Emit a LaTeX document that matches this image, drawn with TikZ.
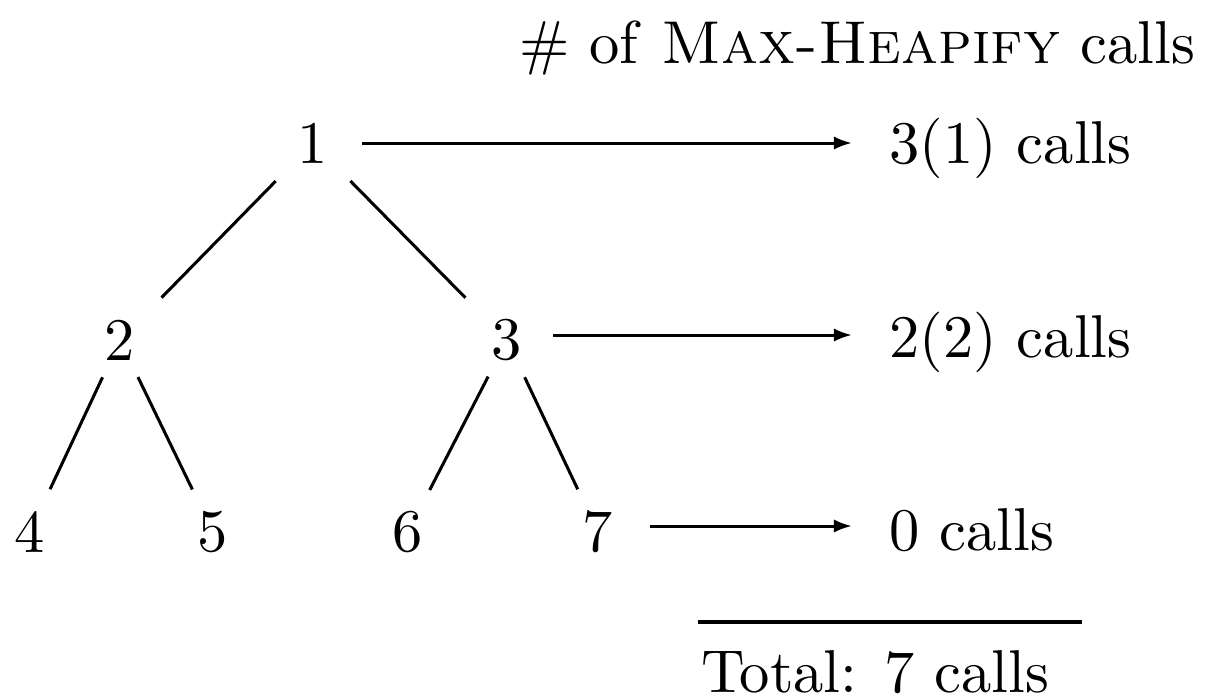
\documentclass[tikz,border=0pt]{standalone}
\usetikzlibrary{arrows.meta}
\begin{document}
\begin{tikzpicture}[x=0.1653pt,y=-0.1653pt,
  num/.style={circle,inner sep=0pt,minimum size=80*0.1653pt},
  lbl/.style={anchor=base west,inner sep=0pt},
  edge/.style={line width=0.5pt},
  arr/.style={line width=0.5pt,-{Latex[length=3pt,width=2.2pt]}}]
\useasboundingbox (0,0) rectangle (1220,696);
\node[num] (n1) at (313,143) {1};
\node[num] (n2) at (120,340) {2};
\node[num] (n3) at (507,340) {3};
\node[num] (n4) at (30,532) {4};
\node[num] (n5) at (213,532) {5};
\node[num] (n6) at (408,532) {6};
\node[num] (n7) at (598,532) {7};
\draw[edge,shorten <=2pt,shorten >=3pt] (n1) -- (n2);
\draw[edge,shorten <=2pt,shorten >=3pt] (n1) -- (n3);
\draw[edge,shorten >=1pt] (n2) -- (n4);
\draw[edge,shorten >=1pt] (n2) -- (n5);
\draw[edge,shorten >=1pt] (n3) -- (n6);
\draw[edge,shorten >=1pt] (n3) -- (n7);
\node[lbl] (l1) at (888,163) {3(1) calls};
\node[lbl] (l2) at (888,357) {2(2) calls};
\node[lbl] (l3) at (888,550) {0 calls};
\node[anchor=base,inner sep=0pt] (hd) at (857,63) {\# of \textsc{Max-Heapify} calls};
\coordinate (a1) at (852,143);
\coordinate (a2) at (852,335);
\coordinate (a3) at (852,526);
\draw[arr] (362,143) coordinate (s1) -- (a1);
\draw[arr] (553,335) coordinate (s2) -- (a2);
\draw[arr] (650,526) coordinate (s3) -- (a3);
\coordinate (t1) at (698,622);
\coordinate (t2) at (1082,622);
\draw[line width=0.55pt] (t1) -- (t2);
\node[lbl] (tot) at (700,692) {Total: 7 calls};
\end{tikzpicture}
\end{document}
